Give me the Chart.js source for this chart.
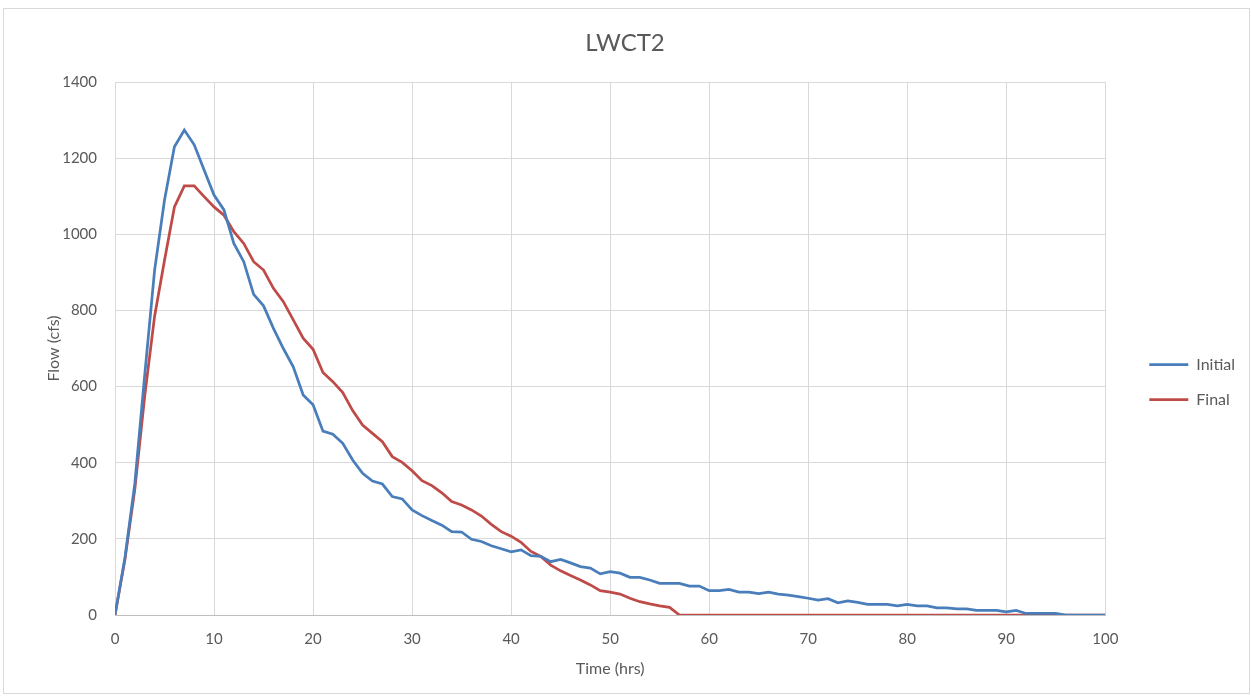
<!DOCTYPE html>
<html lang="en">
<head>
    <meta charset="UTF-8">
    <title>LWCT2</title>
    <script src="https://cdn.jsdelivr.net/npm/chart.js"></script>
    <style>
        html, body { margin: 0; padding: 0; background: #fff; }
        .frame { position: absolute; left: 3px; top: 8px; width: 1247px; height: 686px; border: 1px solid #d9d9d9; box-sizing: border-box; }
        .wrap { position: absolute; left: 0; top: 0; width: 1251px; height: 698px; }
    </style>
</head>
<body>
    <div class="frame"></div>
    <div class="wrap"><canvas id="flowChart" width="1251" height="698"></canvas></div>

    <script>
        // hours since start
        const hours = [
            0, 1, 2, 3, 4, 5, 6, 7, 8, 9, 10, 11, 12, 13, 14, 15, 16, 17, 18, 19, 20,
            21, 22, 23, 24, 25, 26, 27, 28, 29, 30, 31, 32, 33, 34, 35, 36, 37, 38, 39, 40,
            41, 42, 43, 44, 45, 46, 47, 48, 49, 50, 51, 52, 53, 54, 55, 56, 57, 58, 59, 60,
            61, 62, 63, 64, 65, 66, 67, 68, 69, 70, 71, 72, 73, 74, 75, 76, 77, 78, 79, 80,
            81, 82, 83, 84, 85, 86, 87, 88, 89, 90, 91, 92, 93, 94, 95, 96, 97, 98, 99, 100
        ];

        // flow (cfs)
        const initialFlow = [
            0, 150, 345, 630, 906, 1090, 1230, 1274, 1235, 1169, 1103,
            1064, 976, 928, 842, 812, 753, 700, 652, 578, 552,
            483, 475, 451, 407, 372, 352, 344, 311, 305, 276,
            261, 248, 236, 219, 218, 199, 193, 182, 174, 166,
            171, 156, 154, 140, 146, 137, 127, 123, 108, 114,
            110, 99, 99, 92, 83, 83, 83, 76, 76, 64,
            64, 67, 60, 60, 56, 60, 55, 52, 48, 44,
            39, 43, 32, 37, 33, 28, 28, 28, 24, 28,
            24, 24, 19, 19, 16, 16, 12, 12, 12, 8,
            12, 4, 4, 4, 4, 0, 0, 0, 0, 0
        ];
        const finalFlow = [
            0, 145, 330, 575, 785, 932, 1072, 1127, 1127, 1099, 1072,
            1050, 1007, 976, 928, 906, 858, 823, 775, 727, 698,
            637, 613, 584, 537, 499, 477, 455, 416, 401, 379,
            353, 340, 321, 298, 289, 276, 260, 238, 219, 207,
            191, 167, 154, 131, 116, 104, 92, 79, 64, 60,
            55, 44, 35, 29, 24, 20, 0, 0, 0, 0,
            0, 0, 0, 0, 0, 0, 0, 0, 0, 0,
            0, 0, 0, 0, 0, 0, 0, 0, 0, 0,
            0, 0, 0, 0, 0, 0, 0, 0, 0, 0,
            0, 0, 0, 0, 0, 0, 0, 0, 0, 0
        ];

        const textColor = '#595959';
        const gridColor = '#d9d9d9';
        Chart.defaults.font.family = 'Lato, "Open Sans", sans-serif';
        Chart.defaults.color = textColor;

        const toPoints = vals => hours.map((h, i) => ({ x: h, y: vals[i] }));

        // Excel leaves a gap between the plot area and the legend
        const legendGap = {
            id: 'legendGap',
            afterLayout(chart) {
                const lg = chart.legend;
                const dx = chart.chartArea.right + 25 - lg.left;
                lg.left += dx; lg.right += dx;
                lg.top += 35; lg.bottom += 35;
            }
        };

        const ctx = document.getElementById('flowChart').getContext('2d');
        new Chart(ctx, {
            type: 'line',
            data: {
                datasets: [{
                    label: 'Initial',
                    data: toPoints(initialFlow),
                    borderColor: '#4a7ebb',
                    backgroundColor: '#4a7ebb',
                    borderWidth: 2.75,
                    pointRadius: 0,
                    tension: 0
                }, {
                    label: 'Final',
                    data: toPoints(finalFlow),
                    borderColor: '#be4b48',
                    backgroundColor: '#be4b48',
                    borderWidth: 2.75,
                    pointRadius: 0,
                    tension: 0
                }]
            },
            plugins: [legendGap],
            options: {
                responsive: false,
                animation: false,
                layout: { padding: { left: 30, right: 31, top: 8, bottom: 12 } },
                plugins: {
                    title: {
                        display: true,
                        text: 'LWCT2',
                        color: textColor,
                        font: { size: 24, weight: 'normal' },
                        padding: { top: 20.6, bottom: 24.6 }
                    },
                    legend: {
                        position: 'right',
                        labels: {
                            usePointStyle: true,
                            pointStyle: 'line',
                            pointStyleWidth: 39,
                            padding: 19,
                            color: textColor,
                            font: { size: 16 }
                        }
                    },
                    tooltip: { enabled: false }
                },
                scales: {
                    x: {
                        type: 'linear',
                        min: 0,
                        max: 100,
                        ticks: { stepSize: 10, color: textColor, font: { size: 15 }, padding: 15 },
                        grid: { color: gridColor, drawTicks: false },
                        border: { color: '#bfbfbf' },
                        title: { display: true, text: 'Time (hrs)', color: textColor, font: { size: 16 }, padding: { top: 4, bottom: 8 } },
                        afterFit: scale => { scale.height = 71; }
                    },
                    y: {
                        min: 0,
                        max: 1400,
                        ticks: { stepSize: 200, color: textColor, font: { size: 15 }, padding: 18, callback: v => String(v) },
                        grid: { color: gridColor, drawTicks: false },
                        border: { display: false },
                        title: { display: true, text: 'Flow (cfs)', color: textColor, font: { size: 16 }, padding: { top: 14, bottom: 4 } },
                        afterFit: scale => { scale.width = 85; }
                    }
                }
            }
        });
    </script>
</body>
</html>
